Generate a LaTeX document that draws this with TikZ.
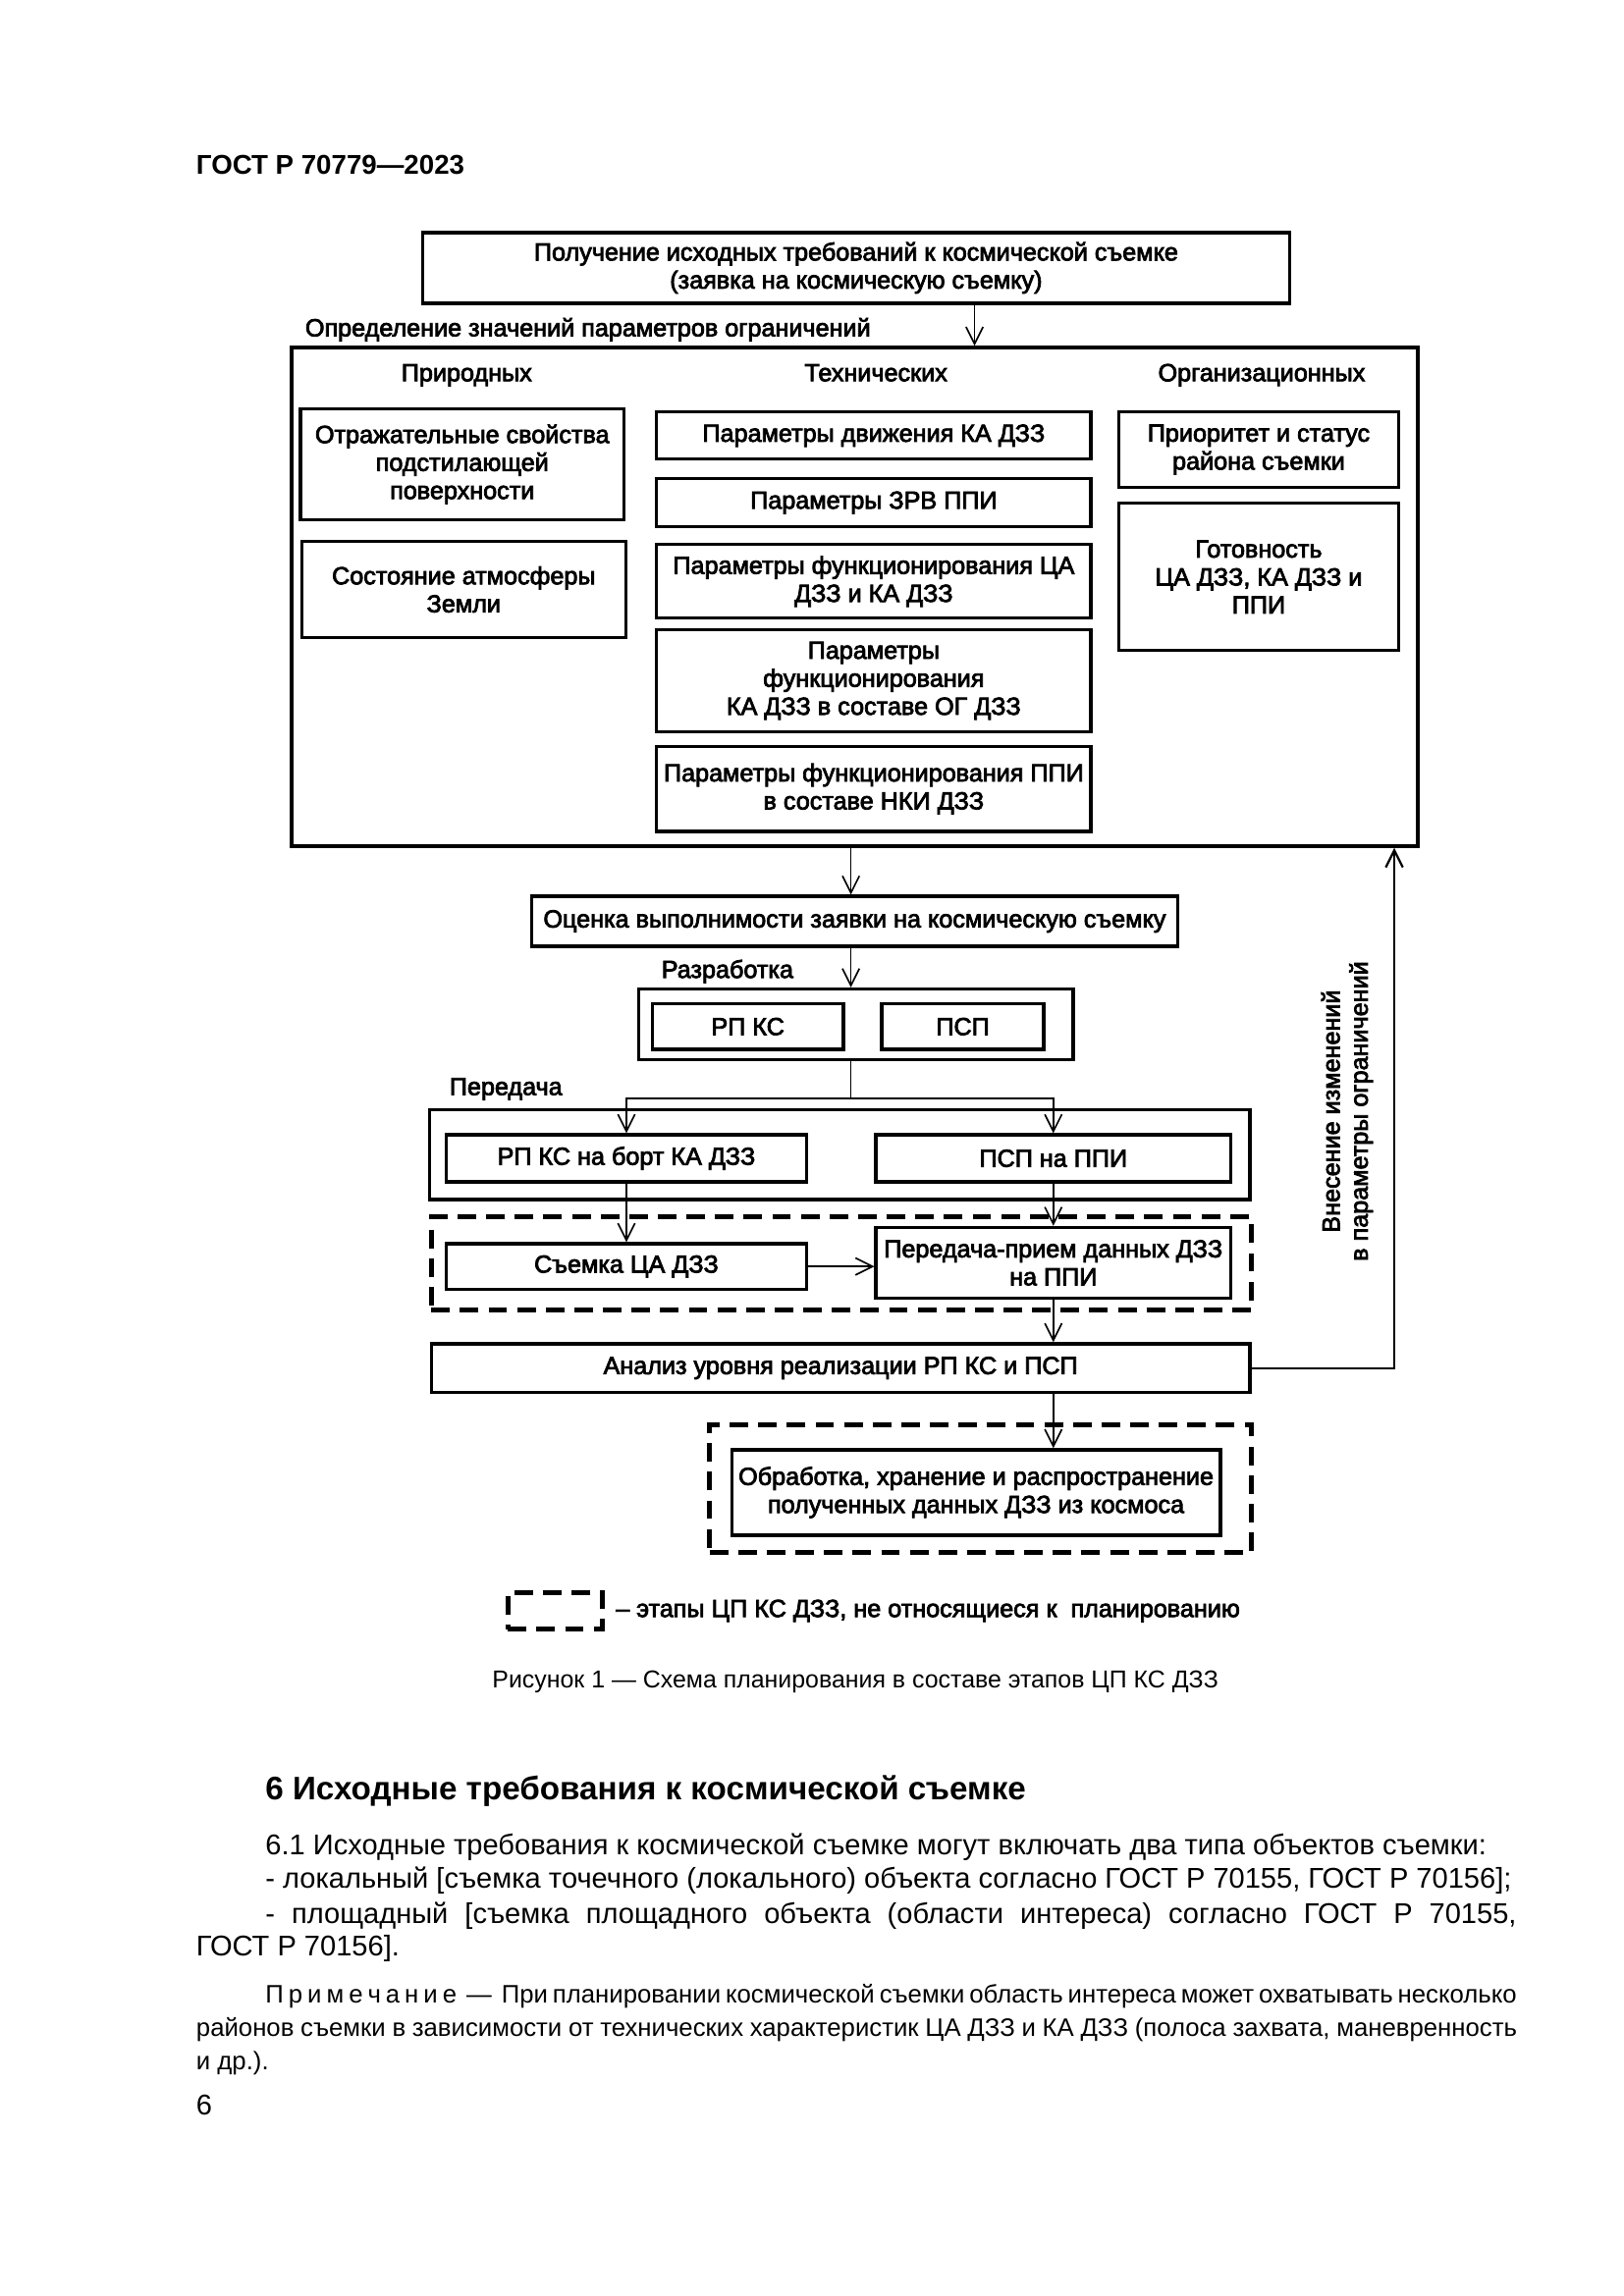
\documentclass[tikz,border=0pt]{standalone}
\usepackage{fontspec}
\setmainfont{Liberation Sans}
\newfontfamily\diagfont{Liberation Sans}[FakeBold=3]
\usetikzlibrary{arrows.meta,calc}

\begin{document}
\begin{tikzpicture}[
            x=0.1904mm,
            y=-0.1904mm,
            box/.style={
                draw,
                rectangle,
                line width=1.2pt,
                align=center,
                inner sep=1pt,
                font=\diagfont\fontsize{9.1pt}{10.3pt}\selectfont
            },
            sz/.style 2 args={
                minimum width=#1*0.1904mm,
                minimum height=#2*0.1904mm
            },
            stage/.style={
                draw,
                rectangle,
                line width=1.8pt,
                dash pattern=on 2.4mm off 1.3mm
            },
            arrow/.style={
                -{Straight Barb[length=2.2mm,width=2.2mm]},
                line width=0.6pt
            },
            wire/.style={
                line width=0.6pt
            },
            lbl/.style={
                font=\diagfont\fontsize{9.1pt}{10.3pt}\selectfont,
                inner sep=0pt
            },
            body/.style={
                font=\fontsize{10.5pt}{12.4pt}\selectfont,
                inner sep=0pt,
                anchor=west
            },
            note/.style={
                body,
                font=\fontsize{9.3pt}{12.4pt}\selectfont
            }
        ]
            \useasboundingbox (0,0) rectangle (1103,1560);

            % page header
            \node (gost) [anchor=west, inner sep=0pt, font=\bfseries\fontsize{10pt}{12pt}\selectfont] at (133,112) {ГОСТ Р 70779—2023};

            % request and constraint parameters
            \node (req) [box, sz={589}{48}] at (581.5,182) {Получение исходных требований к космической съемке\\(заявка на космическую съемку)};
            \node (lblparam) [lbl, anchor=west] at (207,224) {Определение значений параметров ограничений};
            \node (param) [box, sz={765}{339}] at (580.5,405.5) {};
            \node (hnat) [lbl, anchor=base] at (317,259) {Природных};
            \node (htech) [lbl, anchor=base] at (595,259) {Технических};
            \node (horg) [lbl, anchor=base] at (857,259) {Организационных};

            \node (refl) [box, sz={220}{75}] at (314,315.5) {Отражательные свойства\\подстилающей\\поверхности};
            \node (atm) [box, sz={220}{65}] at (315,400.5) {Состояние атмосферы\\Земли};

            \node (mov) [box, sz={295}{32}] at (593.5,296) {Параметры движения КА ДЗЗ};
            \node (zrv) [box, sz={295}{33}] at (593.5,341.5) {Параметры ЗРВ ППИ};
            \node (func) [box, sz={295}{50}] at (593.5,395) {Параметры функционирования ЦА\\ДЗЗ и КА ДЗЗ};
            \node (og) [box, sz={295}{69}] at (593.5,462.5) {Параметры\\функционирования\\КА ДЗЗ в составе ОГ ДЗЗ};
            \node (nki) [box, sz={295}{58}] at (593.5,536) {Параметры функционирования ППИ\\в составе НКИ ДЗЗ};

            \node (prio) [box, sz={190}{51}] at (855,305.5) {Приоритет и статус\\района съемки};
            \node (ready) [box, sz={190}{100}] at (855,392) {Готовность\\ЦА ДЗЗ, КА ДЗЗ и\\ППИ};

            % evaluation and development
            \node (eval) [box, sz={439}{34}] at (580.5,626) {Оценка выполнимости заявки на космическую съемку};
            \node (lbldev) [lbl, anchor=west] at (449,660) {Разработка};
            \node (dev) [box, sz={295}{48}] at (581.5,696) {};
            \node (rpks) [box, sz={130}{31}] at (508,697.5) {РП КС};
            \node (psp) [box, sz={110}{31}] at (654,697.5) {ПСП};

            % transfer
            \node (lbltx) [lbl, anchor=west] at (305,740) {Передача};
            \node (tx) [box, sz={557}{61}] at (570.5,784.5) {};
            \node (rpksb) [box, sz={245}{32}] at (425.5,787) {РП КС на борт КА ДЗЗ};
            \node (pspp) [box, sz={241}{32}] at (715.5,787) {ПСП на ППИ};

            % stages outside planning
            \node (ext1) [stage, sz={557}{63}] at (571.5,858.5) {};
            \node (shoot) [box, sz={245}{31}] at (425.5,860.5) {Съемка ЦА ДЗЗ};
            \node (recv) [box, sz={241}{48}] at (715.5,858) {Передача-прием данных ДЗЗ\\на ППИ};

            \node (anal) [box, sz={556}{33}] at (571,929.5) {Анализ уровня реализации РП КС и ПСП};

            \node (ext2) [stage, sz={368}{87}] at (666,1011.5) {};
            \node (proc) [box, sz={332}{58}] at (663,1014) {Обработка, хранение и распространение\\полученных данных ДЗЗ из космоса};

            \node (chg) [lbl, rotate=90, align=center] at (915,755) {Внесение изменений\\в параметры ограничений};

            % connectors
            \coordinate (reqout) at ($(req.south)+(80.5,0)$);
            \coordinate (split) at ($(dev.south)+(-3.5,25)$);
            \coordinate (procin) at (recv.south |- anal.south);
            \coordinate (fb) at ($(param.south east)+(-17,0)$);

            \draw[arrow] (reqout) -- (reqout |- param.north);
            \draw[arrow] (split |- param.south) -- (split |- eval.north);
            \draw[arrow] (split |- eval.south) -- (split |- dev.north);
            \draw[wire] (split |- dev.south) -- (split);
            \draw[arrow] (split) -| (rpksb.north);
            \draw[arrow] (split) -| (pspp.north);
            \draw[arrow] (rpksb.south) -- (shoot.north);
            \draw[arrow] (pspp.south) -- (recv.north);
            \draw[arrow] (shoot.east) -- (shoot.east -| recv.west);
            \draw[arrow] (recv.south) -- (recv.south |- anal.north);
            \draw[arrow] (procin) -- (procin |- proc.north);
            \draw[arrow, line width=0.8pt] (anal.east) -| (fb);

            % legend and caption
            \node (lgbox) [stage, sz={64}{25}] at (377,1094.5) {};
            \node (lgtext) [lbl, anchor=west] at (418,1094.5) {– этапы ЦП КС ДЗЗ, не относящиеся к~~планированию};
            \node (caption) [inner sep=0pt, font=\fontsize{9pt}{11pt}\selectfont] at (581,1143) {Рисунок 1 — Схема планирования в составе этапов ЦП КС ДЗЗ};

            % section text
            \node (sect) [body, font=\bfseries\fontsize{12pt}{14pt}\selectfont] at (180,1217) {6 Исходные требования к космической съемке};
            \node (p1) [body] at (180,1255) {6.1 Исходные требования к космической съемке могут включать два типа объектов съемки:};
            \node (p2) [body] at (180,1278) {- локальный [съемка точечного (локального) объекта согласно ГОСТ Р 70155, ГОСТ Р 70156];};
            \node (p3) [body] at (180,1302) {\makebox[161.8mm][s]{- площадный [съемка площадного объекта (области интереса) согласно ГОСТ Р 70155,}};
            \node (p4) [body] at (133,1324) {ГОСТ Р 70156].};
            \node (n1) [note] at (180,1356) {\makebox[161.8mm][s]{П р и м е ч а н и е \ — \ При планировании космической съемки область интереса может охватывать несколько}};
            \node (n2) [note] at (133,1379) {\makebox[170.8mm][s]{районов съемки в зависимости от технических характеристик ЦА ДЗЗ и КА ДЗЗ (полоса захвата, маневренность}};
            \node (n3) [note] at (133,1402) {и др.).};
            \node (pgno) [body] at (133,1430) {6};
        \end{tikzpicture}
\end{document}
